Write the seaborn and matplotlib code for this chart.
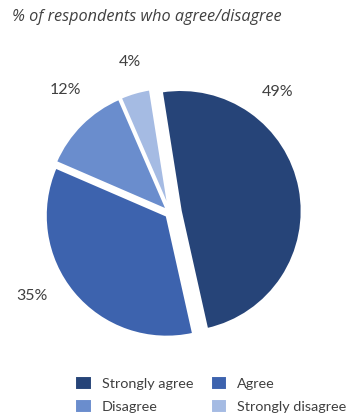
import matplotlib
matplotlib.use("Agg")
import matplotlib.pyplot as plt
import seaborn as sns

categories = ["Strongly agree", "Agree", "Disagree", "Strongly disagree"]
values = [49, 35, 12, 4]
pct_labels = ["49%", "35%", "12%", "4%"]
colors = ["#264478", "#3d63ae", "#6a8dcd", "#a5bbe3"]

sns.set_theme(style="white")
plt.rcParams["font.family"] = ["Lato", "DejaVu Sans"]

W, H = 351, 415
fig = plt.figure(figsize=(W / 100, H / 100), dpi=100)
R = 121.0
cx, cy = 170.0, 213.0
ax = fig.add_axes([0, 0, 1, 1])

wedges, _ = ax.pie(values, colors=colors, startangle=99.0, counterclock=False,
                   explode=[0.09, 0.035, 0.035, 0.035], radius=1.0,
                   wedgeprops=dict(linewidth=1.5, edgecolor="white"))
ax.set_aspect("auto")
ax.set_xlim(-cx / R, (W - cx) / R)
ax.set_ylim(-(H - cy) / R, cy / R)
ax.axis("off")

# label positions (pixels from top-left)
label_px = [(278, 92), (32, 296), (65, 90), (130, 62)]
for txt, (px, py) in zip(pct_labels, label_px):
    ax.text((px - cx) / R, (cy - py) / R, txt, ha="center", va="center",
            fontsize=11.5, color="#404040")

fig.text(12 / W, 1 - 17 / H, "% of respondents who agree/disagree", ha="left",
         va="center", fontsize=11.7, style="italic", color="#404040",
         family=["Open Sans", "DejaVu Sans"])

order = [0, 2, 1, 3]
leg = fig.legend([wedges[i] for i in order], [categories[i] for i in order],
                 ncol=2, loc="upper left",
                 bbox_to_anchor=(62 / W, 1 - 363 / H), frameon=False,
                 fontsize=10.4, handlelength=1.15, handleheight=1.15,
                 handletextpad=0.7, columnspacing=1.2, labelspacing=0.6)
for t in leg.get_texts():
    t.set_color("#404040")

fig.savefig("out.png", dpi=100)
